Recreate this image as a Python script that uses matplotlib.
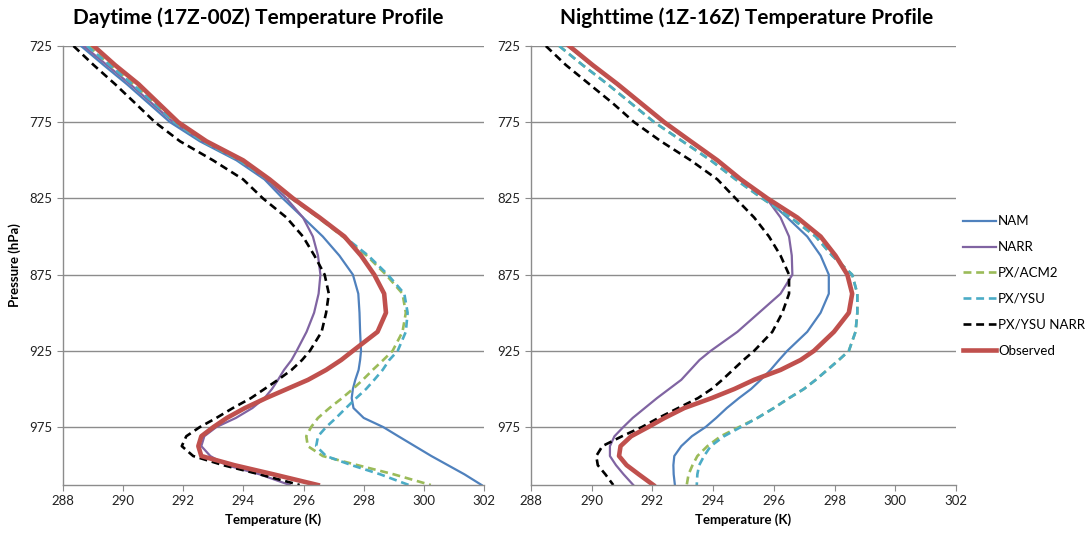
import matplotlib.pyplot as plt

plt.rcParams['font.family'] = ['Lato', 'DejaVu Sans']

# ----------------------------
# Dados (hPa / K)
# ----------------------------
pres = [725, 737.5, 750, 762.5, 775, 787.5, 800, 812.5, 825, 837.5, 850, 862.5,
        875, 887.5, 900, 912.5, 925, 931, 937.5, 944, 950, 956, 962.5, 969,
        975, 981, 987.5, 994, 1000, 1006, 1013]

# Daytime (17Z-00Z)
day_nam = [288.6, 289.35, 290.12, 290.84, 291.56, 292.55, 293.77, 294.7, 295.31, 295.98, 296.64, 297.19,
           297.64, 297.82, 297.86, 297.88, 297.91, 297.88, 297.83, 297.72, 297.64, 297.6, 297.66, 298.0,
           298.65, 299.15, 299.7, 300.25, 300.8, 301.35, 301.92]
day_narr = [288.69, 289.46, 290.23, 290.95, 291.67, 292.66, 293.88, 294.76, 295.43, 295.98, 296.31, 296.48,
            296.56, 296.5, 296.35, 296.1, 295.77, 295.6, 295.35, 295.15, 294.95, 294.7, 294.3, 293.75,
            293.1, 292.7, 292.6, 292.9, 293.44, 294.54, 295.54]
day_acm2 = [288.85, 289.57, 290.34, 291.06, 291.72, 292.66, 293.88, 294.82, 295.6, 296.48, 297.3, 298.1,
            298.74, 299.29, 299.4, 299.29, 298.96, 298.65, 298.3, 297.97, 297.64, 297.28, 296.86, 296.48,
            296.25, 296.09, 296.14, 296.64, 297.8, 299.0, 300.23]
day_ysu = [288.8, 289.55, 290.3, 291.03, 291.7, 292.64, 293.86, 294.8, 295.6, 296.5, 297.35, 298.15,
           298.8, 299.35, 299.46, 299.4, 299.13, 298.85, 298.63, 298.35, 298.08, 297.75, 297.41, 297.08,
           296.75, 296.48, 296.42, 296.75, 297.6, 298.55, 299.5]
day_ysu_narr = [288.35, 289.02, 289.73, 290.4, 291.06, 291.89, 292.99, 293.99, 294.65, 295.43, 295.98, 296.36,
                296.7, 296.84, 296.75, 296.6, 296.21, 295.95, 295.6, 295.15, 294.7, 294.25, 293.65, 293.1,
                292.55, 292.1, 291.95, 292.33, 293.33, 294.54, 295.87]
day_obs = [289.02, 289.73, 290.51, 291.17, 291.83, 292.77, 293.99, 294.87, 295.65, 296.53, 297.36, 297.91,
           298.35, 298.68, 298.74, 298.46, 297.64, 297.25, 296.75, 296.15, 295.45, 294.75, 294.05, 293.45,
           293.0, 292.6, 292.5, 292.6, 293.7, 295.0, 296.47]

# Nighttime (1Z-16Z)
night_nam = [289.22, 290.0, 290.82, 291.6, 292.37, 293.24, 294.12, 294.88, 295.74, 296.44, 297.1, 297.54,
             297.81, 297.81, 297.54, 297.1, 296.44, 296.17, 295.89, 295.57, 295.25, 294.85, 294.45, 294.1,
             293.75, 293.3, 292.95, 292.72, 292.69, 292.7, 292.74]
night_narr = [289.24, 290.02, 290.84, 291.61, 292.38, 293.25, 294.13, 294.9, 295.76, 296.22, 296.5, 296.59,
              296.61, 296.22, 295.51, 294.8, 293.92, 293.55, 293.25, 292.95, 292.55, 292.15, 291.75, 291.35,
              291.04, 290.75, 290.6, 290.6, 290.8, 291.05, 291.37]
night_acm2 = [288.93, 289.7, 290.52, 291.29, 292.06, 292.99, 293.92, 294.74, 295.62, 296.55, 297.38, 297.92,
              298.58, 298.75, 298.75, 298.69, 298.47, 298.14, 297.76, 297.38, 296.99, 296.5, 296.0, 295.46,
              294.85, 294.25, 293.81, 293.48, 293.32, 293.19, 293.13]
night_ysu = [288.93, 289.7, 290.52, 291.29, 292.06, 292.99, 293.92, 294.74, 295.62, 296.55, 297.38, 297.92,
             298.58, 298.75, 298.75, 298.69, 298.47, 298.14, 297.76, 297.38, 296.99, 296.5, 296.0, 295.46,
             294.91, 294.36, 293.92, 293.7, 293.54, 293.48, 293.46]
night_ysu_narr = [288.49, 289.15, 289.92, 290.69, 291.4, 292.28, 293.26, 294.14, 294.74, 295.35, 295.84, 296.22,
                  296.5, 296.5, 296.28, 295.95, 295.35, 295.0, 294.65, 294.3, 293.95, 293.5, 292.85, 292.2,
                  291.65, 291.0, 290.35, 290.15, 290.2, 290.45, 290.71]
night_obs = [289.26, 290.03, 290.85, 291.62, 292.39, 293.26, 294.14, 294.91, 295.79, 296.77, 297.54, 298.03,
             298.42, 298.58, 298.47, 297.98, 297.32, 296.88, 296.22, 295.35, 294.7, 293.95, 293.05, 292.4,
             291.86, 291.3, 290.95, 290.9, 291.15, 291.55, 292.03]

series_names = ['NAM', 'NARR', 'PX/ACM2', 'PX/YSU', 'PX/YSU NARR', 'Observed']
colors = ['#4F81BD', '#8064A2', '#9BBB59', '#4BACC6', '#000000', '#C0504D']
dashed = [False, False, True, True, True, False]
widths = [1.6, 1.6, 1.9, 1.9, 1.9, 3.3]

titles = ['Daytime (17Z-00Z) Temperature Profile', 'Nighttime (1Z-16Z) Temperature Profile']
panels = [
    [day_nam, day_narr, day_acm2, day_ysu, day_ysu_narr, day_obs],
    [night_nam, night_narr, night_acm2, night_ysu, night_ysu_narr, night_obs],
]

# ----------------------------
# Figura
# ----------------------------
fig = plt.figure(figsize=(10.91, 5.38), dpi=100)
ax_l = fig.add_axes([63 / 1091, 1 - 485 / 538, 421 / 1091, 439 / 538])
ax_r = fig.add_axes([531 / 1091, 1 - 485 / 538, 425 / 1091, 439 / 538])

grid_col = '#8C8C8C'
for ax, data in zip([ax_l, ax_r], panels):
    lines = []
    for i in range(6):
        ln, = ax.plot(data[i], pres, color=colors[i], lw=widths[i],
                      label=series_names[i], solid_joinstyle='round')
        if dashed[i]:
            ln.set_dashes((3, 1.8))
        lines.append(ln)
    ax.set_xlim(288, 302)
    ax.set_ylim(1013, 725)
    ax.set_xticks(range(288, 303, 2))
    ax.set_yticks([725, 775, 825, 875, 925, 975])
    ax.grid(axis='y', color=grid_col, lw=1.0)
    ax.set_axisbelow(True)
    for s in ['top', 'right']:
        ax.spines[s].set_visible(False)
    for s in ['left', 'bottom']:
        ax.spines[s].set_color(grid_col)
        ax.spines[s].set_linewidth(1.0)
    ax.tick_params(axis='both', colors=grid_col, labelcolor='#222222', labelsize=9.5,
                   length=4, direction='out')
    ax.set_xlabel('Temperature (K)', fontsize=9.5, fontweight='bold', labelpad=4)

# titulos
fig.text(258 / 1091, 1 - 18 / 538, titles[0], ha='center', va='center',
         fontsize=15, fontweight='bold')
fig.text(747 / 1091, 1 - 18 / 538, titles[1], ha='center', va='center',
         fontsize=15, fontweight='bold')

ax_l.set_ylabel('Pressure (hPa)', fontsize=9.5, fontweight='bold', labelpad=6)

fig.legend(lines, series_names, loc='upper left', bbox_to_anchor=(958 / 1091, 1 - 210 / 538),
           frameon=False, fontsize=9.5, handlelength=2.5, handletextpad=0.15,
           labelspacing=1.05, borderaxespad=0)

fig.savefig('out.png', dpi=100)
